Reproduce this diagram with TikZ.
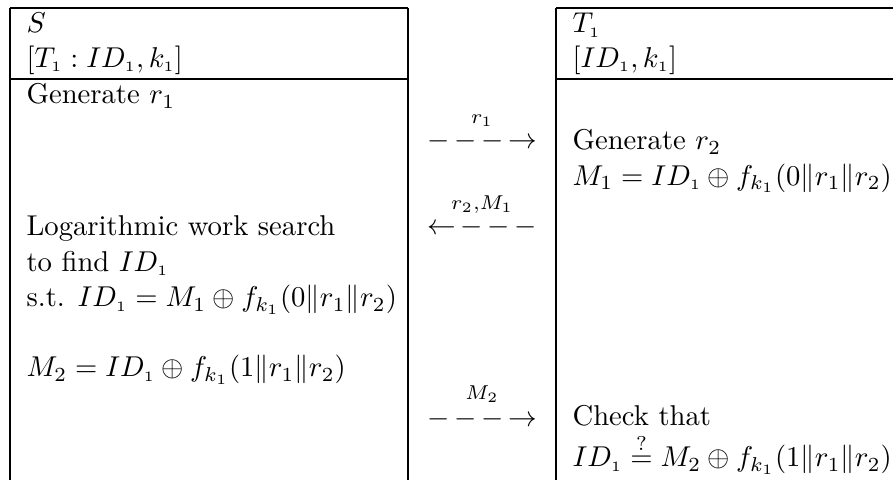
\documentclass[tikz,border=0pt]{standalone}
\usepackage{amsmath}
\begin{document}
\begin{tikzpicture}[x=0.349pt,y=-0.349pt,
  txt/.style={anchor=base west,inner sep=0pt},
  lbl/.style={anchor=base,inner sep=0pt},
  rulel/.style={line width=0.75pt,draw=black}]
\useasboundingbox (0,0) rectangle (893,480);
\clip (0,0) rectangle (893,480);
% table rules
\draw[rulel] (10,8) -- (408,8);
\draw[rulel] (10,79) -- (408,79);
\draw[rulel] (556,8) -- (900,8);
\draw[rulel] (556,79) -- (900,79);
\draw[rulel] (10,8) -- (10,490);
\draw[rulel] (408,8) -- (408,490);
\draw[rulel] (556,8) -- (556,490);
% left column
\node[txt] (s) at (26,33) {$S$};
\node[txt] (sk) at (26,67.5) {$[T_{\scriptscriptstyle 1} : ID_{\scriptscriptstyle 1}, k_{\scriptscriptstyle 1}]$};
\node[txt] (g1) at (26,104) {Generate $r_1$};
\node[txt] (lw) at (26,236) {Logarithmic work search};
\node[txt] (tf) at (26,271.5) {to find $ID_{\scriptscriptstyle 1}$};
\node[txt] (st) at (26,307) {s.t. $ID_{\scriptscriptstyle 1} = M_1 \oplus f_{k_{\scriptscriptstyle 1}}(0\|r_1\|r_2)$};
\node[txt] (m2) at (26,377) {$M_2 = ID_{\scriptscriptstyle 1} \oplus f_{k_{\scriptscriptstyle 1}}(1\|r_1\|r_2)$};
% right column
\node[txt] (t) at (572,33) {$T_{\scriptscriptstyle 1}$};
\node[txt] (tk) at (572,67.5) {$[ID_{\scriptscriptstyle 1}, k_{\scriptscriptstyle 1}]$};
\node[txt] (g2) at (572,150) {Generate $r_2$};
\node[txt] (m1) at (572,185.5) {$M_1 = ID_{\scriptscriptstyle 1} \oplus f_{k_{\scriptscriptstyle 1}}(0\|r_1\|r_2)$};
\node[txt] (ck) at (572,426) {Check that};
\node[txt] (eq) at (572,467) {$ID_{\scriptscriptstyle 1} \stackrel{?}{=} M_2 \oplus f_{k_{\scriptscriptstyle 1}}(1\|r_1\|r_2)$};
% middle column: messages
\node[lbl] (l1) at (482,124) {$\scriptstyle r_1$};
\node[lbl] (a1) at (482,149) {${-}\,{-}\,{-}\,{\rightarrow}$};
\node[lbl] (l2) at (482,210) {$\scriptstyle r_2,M_1$};
\node[lbl] (a2) at (482,235) {${\leftarrow}\,{-}\,{-}\,{-}$};
\node[lbl] (l3) at (482,400) {$\scriptstyle M_2$};
\node[lbl] (a3) at (482,427) {${-}\,{-}\,{-}\,{\rightarrow}$};
\end{tikzpicture}
\end{document}
